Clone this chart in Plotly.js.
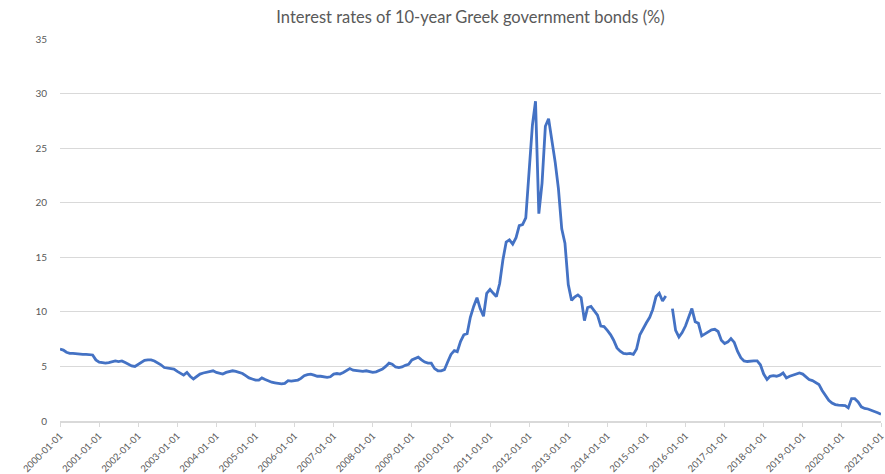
<!DOCTYPE html>
<html>
<head>
<meta charset="utf-8">
<script src="https://cdn.plot.ly/plotly-3.0.1.min.js"></script>
<style>
  html, body { margin: 0; padding: 0; background: #ffffff; }
  #chart { width: 885px; height: 474px; }
</style>
</head>
<body>
<div id="chart"></div>
<script>
// Monthly 10-year Greek government bond yields (%), Jan..Dec of each year
const y2000 = [6.6, 6.5, 6.3, 6.2, 6.2, 6.15, 6.15, 6.1, 6.1, 6.1, 6.05, 5.6];
const y2001 = [5.4, 5.35, 5.3, 5.35, 5.45, 5.5, 5.45, 5.5, 5.35, 5.2, 5.05, 5.0];
const y2002 = [5.2, 5.35, 5.55, 5.6, 5.6, 5.5, 5.35, 5.15, 4.9, 4.85, 4.8, 4.75];
const y2003 = [4.55, 4.35, 4.2, 4.45, 4.1, 3.85, 4.1, 4.3, 4.4, 4.45, 4.55, 4.6];
const y2004 = [4.45, 4.4, 4.3, 4.45, 4.55, 4.6, 4.55, 4.45, 4.35, 4.15, 3.95, 3.85];
const y2005 = [3.75, 3.75, 3.95, 3.8, 3.65, 3.55, 3.5, 3.45, 3.4, 3.45, 3.7, 3.65];
const y2006 = [3.7, 3.75, 3.9, 4.15, 4.25, 4.3, 4.2, 4.1, 4.1, 4.05, 4.0, 4.05];
const y2007 = [4.3, 4.35, 4.3, 4.45, 4.6, 4.8, 4.65, 4.6, 4.6, 4.55, 4.6, 4.5];
const y2008 = [4.45, 4.5, 4.6, 4.75, 5.0, 5.3, 5.2, 4.95, 4.9, 4.95, 5.1, 5.2];
const y2009 = [5.6, 5.75, 5.85, 5.6, 5.4, 5.3, 5.3, 4.8, 4.6, 4.6, 4.7, 5.4];
const y2010 = [6.1, 6.45, 6.35, 7.3, 7.9, 8.0, 9.5, 10.5, 11.3, 10.3, 9.6, 11.7];
const y2011 = [12.05, 11.7, 11.4, 12.6, 14.75, 16.4, 16.6, 16.2, 16.8, 17.9, 18.0, 18.6];
const y2012 = [23.1, 27.1, 29.3, 19.0, 21.8, 27.0, 27.7, 25.7, 23.7, 21.3, 17.6, 16.3];
const y2013 = [12.5, 11.05, 11.35, 11.55, 11.3, 9.2, 10.4, 10.5, 10.1, 9.7, 8.7, 8.65];
const y2014 = [8.3, 7.9, 7.4, 6.7, 6.4, 6.2, 6.15, 6.2, 6.1, 6.6, 7.9, 8.5];
const y2015 = [9.0, 9.5, 10.2, 11.4, 11.7, 11.0, 11.45, null, 10.3, 8.3, 7.7, 8.1];
const y2016 = [8.7, 9.6, 10.3, 9.1, 8.95, 7.8, 8.0, 8.2, 8.35, 8.4, 8.2, 7.4];
const y2017 = [7.1, 7.25, 7.55, 7.2, 6.4, 5.8, 5.5, 5.45, 5.5, 5.5, 5.5, 5.15];
const y2018 = [4.3, 3.8, 4.1, 4.15, 4.1, 4.2, 4.4, 3.95, 4.1, 4.2, 4.35, 4.4];
const y2019 = [4.3, 4.05, 3.8, 3.7, 3.5, 3.35, 2.8, 2.3, 1.9, 1.65, 1.5, 1.45];
const y2020 = [1.45, 1.4, 1.2, 2.05, 2.05, 1.75, 1.3, 1.15, 1.1, 1.0, 0.9, 0.75];
const y2021 = [0.62];

const years = [2000, 2001, 2002, 2003, 2004, 2005, 2006, 2007, 2008, 2009, 2010,
               2011, 2012, 2013, 2014, 2015, 2016, 2017, 2018, 2019, 2020, 2021];
const yearly = [y2000, y2001, y2002, y2003, y2004, y2005, y2006, y2007, y2008, y2009, y2010,
                y2011, y2012, y2013, y2014, y2015, y2016, y2017, y2018, y2019, y2020, y2021];

const tickYears = [2000, 2001, 2002, 2003, 2004, 2005, 2006, 2007, 2008, 2009, 2010,
                   2011, 2012, 2013, 2014, 2015, 2016, 2017, 2018, 2019, 2020, 2021];

const chartTitle = 'Interest rates of 10-year Greek government bonds (%)';

const dates = [];
const rates = [];
years.forEach((yr, i) => {
  yearly[i].forEach((v, m) => {
    dates.push(yr + '-' + String(m + 1).padStart(2, '0') + '-01');
    rates.push(v);
  });
});
const tickVals = tickYears.map(y => y + '-01-01');

const trace = {
  x: dates,
  y: rates,
  type: 'scatter',
  mode: 'lines',
  connectgaps: false,
  line: { color: '#4472C4', width: 2.8 },
  hoverinfo: 'skip'
};

const layout = {
  width: 885,
  height: 474,
  margin: { l: 60, r: 4, t: 39, b: 53 },
  paper_bgcolor: '#ffffff',
  plot_bgcolor: '#ffffff',
  showlegend: false,
  font: { family: 'Lato, "Liberation Sans", sans-serif', color: '#595959', size: 10 },
  title: {
    text: chartTitle,
    font: { family: 'Lato, "Liberation Sans", sans-serif', size: 16.5, color: '#595959' },
    x: 0.5, xref: 'paper',
    y: 1 - 17 / 474, yref: 'container', yanchor: 'middle'
  },
  xaxis: {
    type: 'date',
    range: ['2000-01-01', '2021-01-01'],
    tickmode: 'array',
    tickvals: tickVals,
    ticktext: tickVals,
    tickangle: -45,
    ticklabeloverflow: 'allow',
    showgrid: false,
    showline: true,
    linecolor: '#d9d9d9',
    linewidth: 1.5,
    ticks: 'outside',
    ticklen: 4,
    tickcolor: '#d9d9d9',
    tickfont: { size: 9.5, color: '#595959' },
    zeroline: false,
    automargin: false,
    fixedrange: true
  },
  yaxis: {
    range: [0, 35],
    dtick: 5,
    tick0: 0,
    showgrid: true,
    gridcolor: '#d9d9d9',
    gridwidth: 1,
    zeroline: false,
    showline: false,
    ticks: '',
    ticklabelstandoff: 12,
    tickfont: { size: 10, color: '#595959' },
    automargin: false,
    fixedrange: true
  }
};

Plotly.newPlot('chart', [trace], layout, { displayModeBar: false, staticPlot: true });
</script>
</body>
</html>
